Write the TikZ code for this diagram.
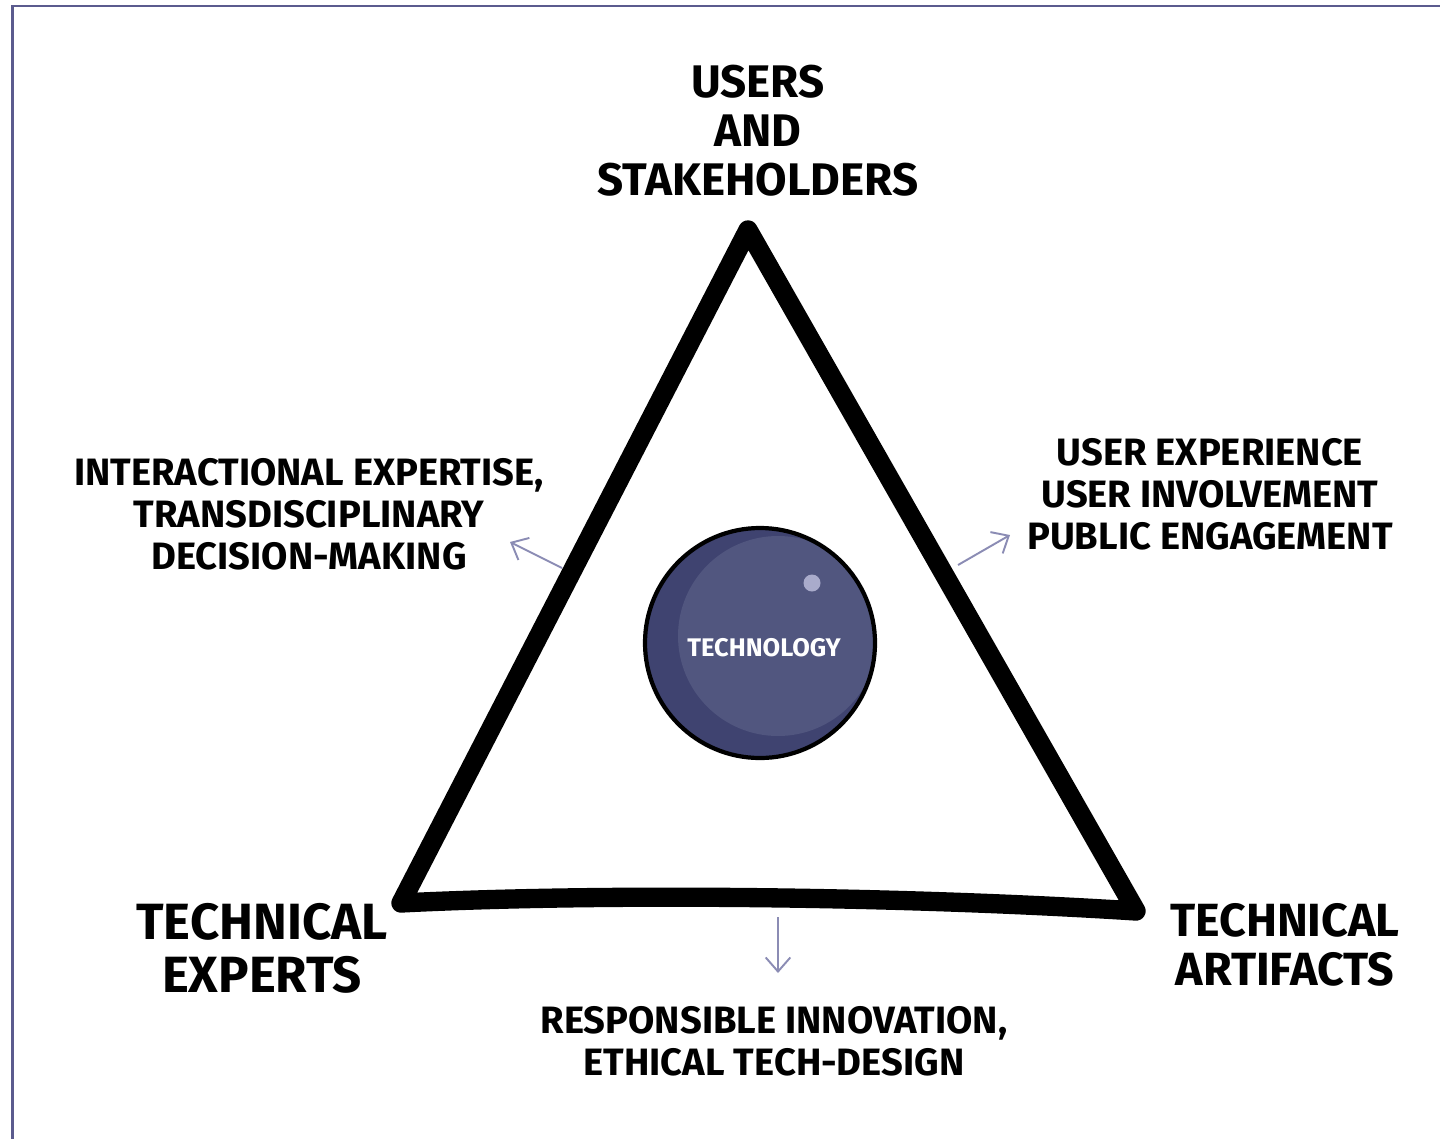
\documentclass[tikz,border=0pt]{standalone}
\usepackage{fontspec}
\setmainfont{Fira Sans}
\usetikzlibrary{arrows.meta}
\definecolor{framecol}{HTML}{5B5B8E}
\definecolor{arrowcol}{HTML}{8B8CB4}
\definecolor{ballcol}{HTML}{51567F}
\definecolor{balldark}{HTML}{3F4370}
\definecolor{balldot}{HTML}{A9ABCB}

\begin{document}
\begin{tikzpicture}[x=0.02cm, y=-0.02cm,
    corner/.style={font=\bfseries\fontsize{29}{30}\selectfont, align=center},
    side/.style={font=\bfseries\fontsize{21.7}{23.8}\selectfont, align=center},
    link/.style={arrowcol, line width=1.1pt, -{Straight Barb[length=8pt, width=14pt]}}]
  \useasboundingbox (0,0) rectangle (1440,1139);
  \draw[framecol, line width=1.7pt] (12.5,1139) -- (12.5,6) -- (1440,6);

  % triangle
  \coordinate (top) at (748,230);
  \coordinate (left) at (401,903);
  \coordinate (right) at (1136,911);
  \draw[line width=11pt, line join=round, line cap=round]
    (left) -- (top) -- (right) .. controls (900,896) and (600,893) .. cycle;

  % ball
  \begin{scope}
    \clip (760,643) circle (115);
    \fill[balldark] (760,643) circle (115);
    \fill[ballcol] (778,636) circle (100);
  \end{scope}
  \draw[line width=2.4pt] (760,643) circle (115);
  \fill[balldot] (812,583) circle (8.5);
  \node[text=white, font=\bfseries\fontsize{14.5}{16}\selectfont] (tech) at (764,648) {TECHNOLOGY};

  % corner labels
  \node[corner, font=\bfseries\fontsize{26}{27.8}\selectfont] (users) at (758,131) {USERS\\AND\\STAKEHOLDERS};
  \node[corner] (experts) at (262,948) {TECHNICAL\\EXPERTS};
  \node[corner, font=\bfseries\fontsize{26.5}{28}\selectfont] (artifacts) at (1285,945) {TECHNICAL\\ARTIFACTS};

  % side labels
  \node[side] (expertise) at (309,514) {INTERACTIONAL EXPERTISE,\\TRANSDISCIPLINARY\\DECISION-MAKING};
  \node[side] (engage) at (1210,494) {USER EXPERIENCE\\USER INVOLVEMENT\\PUBLIC ENGAGEMENT};
  \node[side] (ethics) at (774,1041) {RESPONSIBLE INNOVATION,\\ETHICAL TECH-DESIGN};

  \coordinate (l1) at (562,568);
  \coordinate (l2) at (510,542);
  \coordinate (r1) at (958,565);
  \coordinate (r2) at (1010,535);
  \coordinate (b1) at (778,917);
  \coordinate (b2) at (778,973);
  \draw[link] (l1) -- (l2);
  \draw[link] (r1) -- (r2);
  \draw[link] (b1) -- (b2);
\end{tikzpicture}
\end{document}
